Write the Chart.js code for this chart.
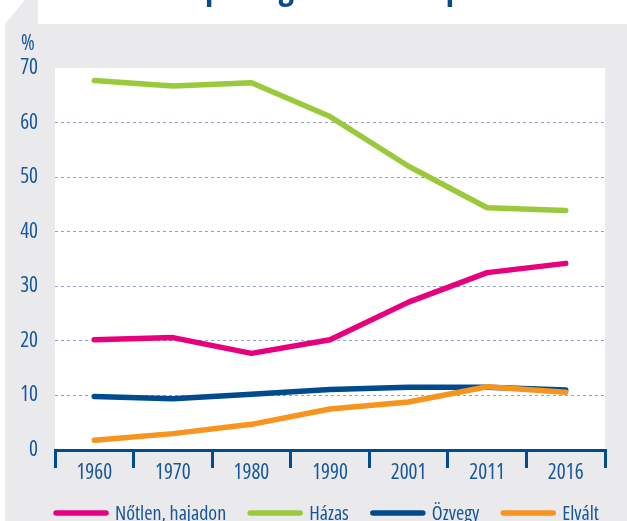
<!DOCTYPE html>
<html>
<head>
<meta charset="utf-8">
<script src="https://cdn.jsdelivr.net/npm/chart.js@4"></script>
<style>
  html, body { margin: 0; padding: 0; background: #fff; }
  #wrap { position: relative; width: 627px; height: 521px; }
</style>
</head>
<body>
<div id="wrap"><canvas id="csaladi"></canvas></div>
<script>
// --- data -------------------------------------------------------
const years = ['1960', '1970', '1980', '1990', '2001', '2011', '2016'];
const notlen = [20.2, 20.6, 17.7, 20.2, 27.1, 32.5, 34.2];
const hazas = [67.7, 66.7, 67.3, 61.1, 52.0, 44.4, 43.9];
const ozvegy = [9.8, 9.4, 10.2, 11.1, 11.5, 11.5, 11.0];
const elvalt = [1.8, 3.0, 4.7, 7.5, 8.8, 11.6, 10.6];
const seriesNames = ['Nőtlen, hajadon', 'Házas', 'Özvegy', 'Elvált'];
const yMin = 0, yMax = 70, yStep = 10;
const titleText = 'A népesség családi állapot szerint';
const unitText = '%';

// condensed face: Open Sans with the wdth axis if the canvas honours it,
// otherwise Roboto Condensed
const probe = document.createElement('canvas').getContext('2d');
probe.font = '20px "Open Sans"';
const wNormal = probe.measureText('1960').width;
probe.font = 'condensed 20px "Open Sans"';
const wCond = probe.measureText('1960').width;
const useStretch = wCond < wNormal - 4;
const FONT = useStretch ? '"Open Sans"' : '"Roboto Condensed"';
const STRETCH = useStretch ? 'condensed' : '';
const SIZE = useStretch ? 21 : 19;
const fontStr = (w, size) => (STRETCH ? STRETCH + ' ' : '') + (w ? w + ' ' : '') + (size || SIZE) + 'px ' + FONT;

const BLUE_TXT = '#16569a';
const GRAY = '#eaeaec';
const colors = ['#e6007e', '#9aca3c', '#004b8d', '#f7941d'];

// panel background, title strip, unit label
const backdrop = {
  id: 'backdrop',
  beforeDraw(chart) {
    const { ctx, chartArea: a, width, height } = chart;
    ctx.save();
    ctx.fillStyle = '#fff';
    ctx.fillRect(0, 0, width, height);
    ctx.fillStyle = GRAY;
    ctx.beginPath();
    ctx.moveTo(25, 0);
    ctx.lineTo(width, 0);
    ctx.lineTo(width, height);
    ctx.lineTo(5, height);
    ctx.lineTo(5, 24);
    ctx.closePath();
    ctx.fill();
    ctx.fillStyle = '#fff';
    ctx.fillRect(38, 0, width - 38, 24);
    ctx.fillRect(a.left, a.top, a.right - a.left, a.bottom - a.top);

    // title is cut off by the top edge, only descenders show
    ctx.fillStyle = '#0b4a8b';
    ctx.font = fontStr('bold', 34);
    ctx.textBaseline = 'alphabetic';
    const pre = ctx.measureText('A né').width;
    ctx.fillText(titleText, 205 - pre, -1);

    ctx.fillStyle = BLUE_TXT;
    ctx.font = fontStr('500');
    ctx.fillText(unitText, 21, 50);
    ctx.restore();
  }
};

// legend with long round-capped swatches
const lineLegend = {
  id: 'lineLegend',
  afterDraw(chart) {
    const { ctx } = chart;
    ctx.save();
    ctx.font = fontStr('500', 20);
    ctx.textBaseline = 'middle';
    let x = 56;
    const y = 513;
    chart.data.datasets.forEach(ds => {
      ctx.strokeStyle = ds.borderColor;
      ctx.lineWidth = 5.5;
      ctx.lineCap = 'round';
      ctx.beginPath();
      ctx.moveTo(x, y);
      ctx.lineTo(x + 50, y);
      ctx.stroke();
      ctx.fillStyle = BLUE_TXT;
      ctx.fillText(ds.label, x + 59, y + 1);
      x += 59 + ctx.measureText(ds.label).width + 24;
    });
    ctx.restore();
  }
};

function makeSet(i, values) {
  return {
    label: seriesNames[i],
    data: values,
    borderColor: colors[i],
    backgroundColor: colors[i],
    borderWidth: 5.5,
    borderCapStyle: 'round',
    borderJoinStyle: 'round',
    pointRadius: 0,
    pointHoverRadius: 0,
    tension: 0,
    fill: false,
    clip: 6,
    order: i === 3 ? -1 : 0
  };
}

const tickFont = { family: FONT, size: SIZE, weight: (STRETCH ? STRETCH + ' ' : '') + '500' };

new Chart(document.getElementById('csaladi'), {
  type: 'line',
  data: {
    labels: years,
    datasets: [makeSet(0, notlen), makeSet(1, hazas), makeSet(2, ozvegy), makeSet(3, elvalt)]
  },
  options: {
    responsive: true,
    maintainAspectRatio: false,
    animation: false,
    events: [],
    layout: { padding: { top: 68, right: 22, left: 0, bottom: 0 } },
    plugins: {
      legend: { display: false },
      tooltip: { enabled: false },
      title: { display: false }
    },
    scales: {
      x: {
        offset: true,
        grid: {
          offset: true,
          drawOnChartArea: false,
          drawTicks: true,
          tickLength: 18,
          color: '#004b8d',
          lineWidth: 3
        },
        border: { display: true, color: '#004b8d', width: 3 },
        ticks: {
          color: BLUE_TXT,
          font: tickFont,
          padding: -8,
          maxRotation: 0
        },
        afterFit(scale) { scale.height = 71; }
      },
      y: {
        min: yMin,
        max: yMax,
        ticks: {
          stepSize: yStep,
          color: BLUE_TXT,
          font: tickFont,
          padding: 17
        },
        grid: {
          drawTicks: false,
          lineWidth: 1,
          color: ctx => (ctx.tick && (ctx.tick.value === yMin || ctx.tick.value === yMax)) ? 'rgba(0,0,0,0)' : '#8b9fd0'
        },
        border: { display: false, dash: [3, 3] },
        afterFit(scale) { scale.width = 55; }
      }
    }
  },
  plugins: [backdrop, lineLegend]
});
</script>
</body>
</html>
